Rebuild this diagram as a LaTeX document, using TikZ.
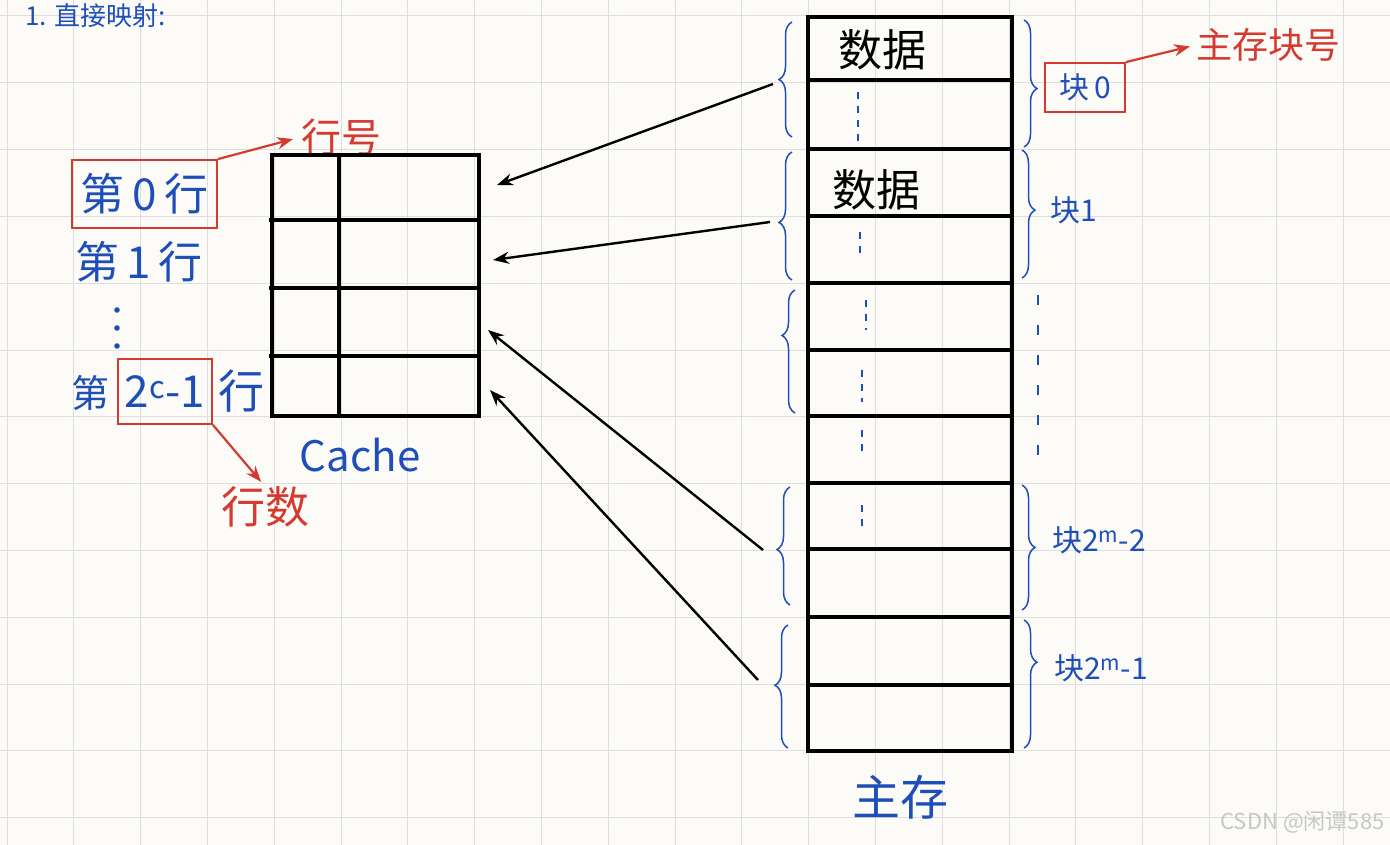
\documentclass[tikz,border=0pt]{standalone}
\usepackage{fontspec}
\setmainfont{Noto Sans CJK SC}
\usetikzlibrary{arrows.meta,decorations.pathreplacing}
\definecolor{penBlue}{HTML}{1E4FB8}
\definecolor{penRed}{HTML}{D43A2F}
\definecolor{paper}{HTML}{FCFBF8}
\definecolor{gridGray}{HTML}{DEDEDE}
\newcommand{\penfs}[1]{\fontsize{#1}{#1}\selectfont}

\begin{document}
\begin{tikzpicture}[
    x=1pt, y=-1pt,
    box/.style={black, line width=3.2pt},
    blu/.style={text=penBlue, inner sep=0pt},
    redlbl/.style={text=penRed, inner sep=0pt},
    redbox/.style={draw=penRed, line width=1.8pt, inner sep=0pt},
    redarr/.style={-{Stealth[length=16pt,width=12pt]}, penRed, line width=2.2pt},
    blkarr/.style={-{Stealth[length=16pt,width=12pt]}, black, line width=2.4pt},
    curly/.style={penBlue, line width=1.5pt, decorate,
        decoration={brace, amplitude=13pt, aspect=#1}},
    dots/.style={penBlue, line width=1.4pt, dash pattern=on 7pt off 7pt},
]
\def\g{66.8}

% paper and grid
\useasboundingbox (0,0) rectangle (1390,845);
\fill[paper] (0,0) rectangle (1390,845);
\foreach \i in {0,...,20} {
    \draw[gridGray, line width=1pt] ({7+\i*\g}, 0) -- ++(0, 845);
}
\foreach \j in {0,...,12} {
    \draw[gridGray, line width=1pt] (0, {16+\j*\g}) -- ++(1390, 0);
}

% heading
\node[blu, font=\penfs{26}, anchor=north west] (title) at (25,3) {1. 直接映射:};

% line labels
\node[blu, redbox, font=\penfs{44}, minimum width=145pt, minimum height=68pt]
    (row0) at (144.5,194) {第\,0\,行};
\node[blu, font=\penfs{44}] (row1) at (139,262) {第\,1\,行};
\foreach \y in {310,328,346} {
    \fill[penBlue] (117,\y) circle (2.8pt);
}
\node[blu, font=\penfs{38}, anchor=east] (rowdi) at (110,393) {第};
\node[blu, redbox, font=\penfs{44}, minimum width=94pt, minimum height=65pt]
    (rowlast) at (165,391.5) {2\textsuperscript{c}-1};
\node[blu, font=\penfs{46}] (rowhang) at (241,391) {行};

% red notes on the left
\node[redlbl, font=\penfs{40}] (hanghao) at (341,137) {行号};
\node[redlbl, font=\penfs{44}] (hangshu) at (265,507) {行数};
\draw[redarr, shorten >=8pt] (row0.north east) -- (hanghao.west);
\draw[redarr, shorten >=6pt] (rowlast.south east) -- (hangshu.north);

% Cache: 4 lines, tag and data
\draw[box] (272,155) rectangle (479,416);
\foreach \y in {220,288,356} {
    \draw[box] (269,\y) -- (479,\y);
}
\draw[box] (339,155) -- (339,416);
\node[blu, font=\penfs{42}] (cache) at (360,455) {Cache};

% main memory column
\draw[box] (808,17) rectangle (1012,751);
\foreach \y in {80,149,216,283,350,416,483,549,617,685} {
    \draw[box] (808,\y) -- (1014,\y);
}
\node[font=\penfs{44}] (data0) at (882,50) {数据};
\node[font=\penfs{44}] (data1) at (876,190) {数据};
\node[blu, font=\penfs{48}] (mem) at (900,797) {主存};

% dotted marks
\foreach \x/\a/\b in {858/92/143, 860/232/258, 866/300/330,
                      862/370/402, 862/430/458, 862/505/530} {
    \draw[dots] (\x,\a) -- (\x,\b);
}
\draw[dots, dash pattern=on 10pt off 20pt] (1038,295) -- (1038,470);

% braces, left side
\draw[curly=0.5]  (792,137) -- (792,22);
\draw[curly=0.45] (792,280) -- (792,152);
\draw[curly=0.63] (795,413) -- (795,290);
\draw[curly=0.47] (790,605) -- (790,487);
\draw[curly=0.51] (788,748) -- (788,625);

% braces, right side
\draw[curly=0.54] (1024,20) -- (1024,147);
\draw[curly=0.47] (1022,150) -- (1022,278);
\draw[curly=0.5]  (1022,485) -- (1022,610);
\draw[curly=0.33] (1024,620) -- (1024,748);

% block labels
\node[blu, redbox, font=\penfs{30}, minimum width=80pt, minimum height=49pt]
    (blk0) at (1085,87.5) {块\,0};
\node[blu, font=\penfs{30}, anchor=west] (blk1) at (1050,210) {块1};
\node[blu, font=\penfs{30}, anchor=west] (blk2) at (1052,540) {块2\textsuperscript{m}-2};
\node[blu, font=\penfs{30}, anchor=west] (blk3) at (1054,668) {块2\textsuperscript{m}-1};
\node[redlbl, font=\penfs{36}] (blkno) at (1268,45) {主存块号};
\draw[redarr, shorten >=6pt] (blk0.north east) -- (blkno.west);

% mapping arrows, memory block -> cache line
\coordinate (m0) at (773,84);
\coordinate (m1) at (770,222);
\coordinate (m2) at (763,550);
\coordinate (m3) at (758,680);
\coordinate (c0) at (497,185);
\coordinate (c1) at (493,260);
\coordinate (c2) at (488,330);
\coordinate (c3) at (490,390);
\foreach \i in {0,...,3} {
    \draw[blkarr] (m\i) -- (c\i);
}

% watermark
\node[text=black!22, font=\penfs{22}, anchor=east] (mark) at (1388,822) {CSDN @闲谭585};

\end{tikzpicture}
\end{document}
